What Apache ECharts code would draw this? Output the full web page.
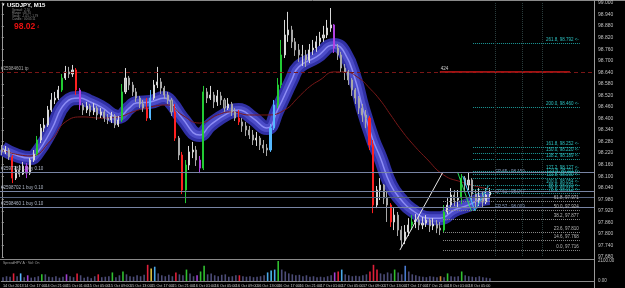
<!DOCTYPE html>
<html><head><meta charset="utf-8">
<script src="https://cdn.jsdelivr.net/npm/echarts@6/dist/echarts.min.js"></script>
<style>html,body{margin:0;padding:0;background:#000;}#c{width:625px;height:288px;}</style>
</head><body><div id="c"></div>
<script>
// ---- time axis ----
const tickLabels = ['14 Oct 2013','14 Oct 17:00','14 Oct 21:00','15 Oct 01:00','15 Oct 05:00','15 Oct 09:00','15 Oct 13:00','15 Oct 17:00','15 Oct 21:00','16 Oct 01:00','16 Oct 05:00','16 Oct 09:00','16 Oct 13:00','16 Oct 17:00','16 Oct 21:00','17 Oct 01:00','17 Oct 05:00','17 Oct 09:00','17 Oct 13:00','17 Oct 17:00','17 Oct 21:00','18 Oct 01:00','18 Oct 05:00'];
const barsPerTick = 6;
const totalSlots = 168;

// ---- price candles (USDJPY) ----
const firstOpen = 98.246;
const closes = [98.226,98.236,98.200,98.090,98.132,98.111,98.153,98.116,98.184,98.215,
98.288,98.350,98.366,98.444,98.496,98.506,98.548,98.610,98.642,98.631,
98.652,98.548,98.470,98.444,98.465,98.434,98.454,98.418,98.434,98.402,
98.392,98.413,98.366,98.392,98.538,98.610,98.574,98.538,98.506,98.475,
98.454,98.402,98.506,98.574,98.590,98.558,98.522,98.496,98.434,98.298,
98.210,98.028,98.158,98.226,98.236,98.184,98.142,98.538,98.506,98.522,
98.486,98.517,98.496,98.454,98.475,98.434,98.402,98.382,98.361,98.340,
98.314,98.288,98.298,98.262,98.246,98.236,98.350,98.470,98.574,98.730,
98.834,98.860,98.798,98.756,98.730,98.730,98.704,98.756,98.766,98.798,
98.818,98.834,98.870,98.886,98.766,98.730,98.662,98.642,98.600,98.548,
98.506,98.454,98.418,98.402,98.262,97.950,98.028,98.054,97.986,97.950,
97.862,97.898,97.820,97.768,97.810,97.846,97.862,97.872,97.846,97.856,
97.872,97.841,97.851,97.830,97.820,97.914,97.950,98.002,97.976,97.986,
98.090,98.054,98.080,98.007,97.976,97.997,97.966,98.002,98.018];
const highs = [98.262,98.257,98.246,98.210,98.153,98.158,98.174,98.168,98.194,98.236,
98.309,98.371,98.402,98.465,98.532,98.538,98.569,98.631,98.673,98.668,
98.678,98.662,98.558,98.480,98.486,98.475,98.480,98.465,98.454,98.444,
98.423,98.434,98.423,98.413,98.579,98.662,98.621,98.590,98.558,98.517,
98.496,98.506,98.548,98.600,98.668,98.610,98.569,98.538,98.506,98.475,
98.309,98.226,98.184,98.257,98.278,98.257,98.205,98.569,98.558,98.569,
98.538,98.548,98.538,98.506,98.506,98.486,98.454,98.444,98.402,98.382,
98.361,98.340,98.330,98.309,98.288,98.267,98.371,98.496,98.610,98.808,
98.912,98.954,98.881,98.818,98.787,98.782,98.756,98.787,98.808,98.829,
98.850,98.881,98.912,98.974,98.891,98.787,98.746,98.683,98.652,98.610,
98.558,98.517,98.475,98.444,98.413,98.288,98.049,98.090,98.059,98.018,
97.960,97.934,97.914,97.841,97.846,97.882,97.898,97.903,97.893,97.888,
97.898,97.882,97.882,97.872,97.862,97.950,97.986,98.038,98.028,98.028,
98.111,98.101,98.122,98.090,98.028,98.038,98.018,98.038,98.038];
const lows = [98.210,98.215,98.184,98.064,98.080,98.096,98.106,98.090,98.106,98.174,
98.205,98.272,98.330,98.356,98.434,98.475,98.496,98.538,98.600,98.610,
98.616,98.522,98.444,98.418,98.428,98.413,98.418,98.392,98.402,98.382,
98.371,98.376,98.350,98.356,98.382,98.527,98.548,98.517,98.486,98.454,
98.434,98.387,98.392,98.496,98.558,98.527,98.501,98.475,98.413,98.283,
98.184,98.007,97.960,98.132,98.194,98.153,98.116,98.132,98.480,98.496,
98.454,98.465,98.470,98.434,98.444,98.413,98.387,98.366,98.330,98.309,
98.293,98.262,98.257,98.236,98.220,98.205,98.226,98.340,98.454,98.558,
98.714,98.798,98.766,98.725,98.694,98.673,98.668,98.688,98.730,98.746,
98.777,98.798,98.818,98.850,98.740,98.704,98.642,98.600,98.574,98.517,
98.475,98.423,98.382,98.350,98.236,97.908,97.934,97.976,97.955,97.862,
97.836,97.820,97.789,97.732,97.747,97.789,97.820,97.830,97.820,97.825,
97.836,97.810,97.820,97.804,97.794,97.810,97.903,97.934,97.945,97.940,
97.955,98.018,98.028,97.976,97.934,97.945,97.940,97.955,97.986];
const candleColors = {3:'#ff2020',7:'#b040e0',10:'#22cc33',17:'#22cc33',21:'#ff2020',22:'#b040e0',34:'#22cc33',41:'#ff2020',42:'#55b8ff',49:'#ff2020',51:'#ff2020',52:'#22cc33',56:'#b040e0',57:'#22cc33',67:'#ff2020',76:'#55b8ff',77:'#55b8ff',78:'#22cc33',79:'#22cc33',94:'#b040e0',104:'#ff2020',105:'#ff2020',110:'#ff2020',116:'#22cc33',125:'#22cc33',130:'#22cc33'};

// ---- volume ----
const volumes = [400,500,450,800,500,800,400,600,350,400,
500,700,700,450,400,500,350,450,700,500,
400,800,600,350,450,300,500,700,400,450,
500,900,400,600,1000,700,500,450,600,500,
650,1700,1300,1500,800,600,500,650,500,900,
700,600,1200,800,500,600,1000,1600,700,800,
600,500,650,700,450,500,600,600,500,450,
500,400,450,500,600,900,1100,1200,2100,1200,
1000,800,700,600,650,500,600,450,500,400,
450,400,500,600,900,1000,1200,700,600,500,
550,500,600,700,1000,1700,1200,800,700,900,
800,1200,900,700,1600,1000,700,600,500,450,
400,500,450,400,500,400,800,500,450,500,
1000,600,500,450,400,500,400,350,300];
const volColors = {3:'#e0203a',5:'#5ab4ff',7:'#a040d0',11:'#30c030',18:'#a040d0',21:'#e0203a',27:'#e0203a',31:'#30c030',34:'#30c030',41:'#e0203a',42:'#d8c040',43:'#4aa8e8',49:'#e0203a',52:'#30c030',55:'#a040d0',56:'#30c030',57:'#30c030',67:'#e0203a',75:'#4aa8e8',76:'#4ab8e8',77:'#4aa8e8',78:'#30c030',94:'#a040d0',95:'#e0203a',96:'#4aa8e8',104:'#e0203a',105:'#e0203a',106:'#e0203a',111:'#30c030',114:'#4a7ad0',124:'#d08030',126:'#30c030',130:'#30c030'};

// ---- indicators ----
const bandIdx = [0,4,8,10,14,18,22,25,28,33,36,38,42,46,48,51,56,59,64,67,71,75,78,82,84,89,94,97,100,102,105,107,110,113,116,121,124,128,132,135,138];
const bandVal = [98.246,98.210,98.194,98.220,98.340,98.480,98.506,98.486,98.460,98.408,98.454,98.480,98.486,98.506,98.480,98.402,98.314,98.366,98.428,98.444,98.402,98.350,98.444,98.600,98.668,98.720,98.782,98.740,98.600,98.460,98.288,98.200,98.054,97.976,97.924,97.882,97.882,97.924,97.950,97.976,97.986];
const maIdx = [0,8,14,18,23,28,33,37,42,47,51,56,61,65,70,75,80,84,87,90,94,97,101,104,107,110,113,116,120,125,130,135,138];
const maVal = [98.236,98.205,98.288,98.382,98.408,98.402,98.408,98.434,98.460,98.470,98.418,98.376,98.418,98.434,98.418,98.418,98.444,98.512,98.564,98.600,98.642,98.642,98.610,98.558,98.496,98.418,98.340,98.272,98.194,98.106,98.070,98.044,98.033];

// ---- levels ----
const tpLevel = 98.642;
const tpLabel = '#25984601 tp';
const orderLevels = [98.124, 98.018, 97.992, 97.940];
const orderLabels = ['#2597783 1 buy 0.10', '#2598702 1 buy 0.10', '', '#2598460 1 buy 0.10'];
const fibTeal = [98.792,98.460,98.252,98.220,98.189,98.127,98.111,98.090,98.054,98.033,98.012];
const fibTealRatio = ['261.8','200.0','161.8','150.0','138.2','127.2','123.6','111.8','100.0','88.6','78.6'];
const fibGrey = [97.971,97.924,97.877,97.810,97.768,97.716];
const fibGreyRatio = ['61.8','50.0','38.2','23.6','14.6','0.0'];
const epLabels = ['EP 65 : 98.150','EP 61 : 98.047','EP 57 : 98.009'];
const epLevels = [98.124, 98.018, 97.940];
const trendLines = [
  {from:[112.6,97.716], to:[124.8,98.122], color:'#e8e8e8'},
  {from:[128.9,98.122], to:[132.8,97.920], color:'#22dd55'},
  {from:[130.4,98.100], to:[133.8,97.920], color:'#40c8ff'},
  {from:[133.8,97.920], to:[137.6,98.050], color:'#30b0c0'}
];
const timeZones = [139.5, 147.1, 152.8];

// ---- build ----
const cats = Array.from({length: totalSlots}, (_, i) => 's' + i);
const ohlc = closes.map((c, i) => {
  const o = i === 0 ? firstOpen : closes[i - 1];
  const item = {value: [o, c, lows[i], highs[i]]};
  const col = candleColors[i];
  if (col) item.itemStyle = {color: col, color0: col, borderColor: col, borderColor0: col};
  return item;
});
const volData = volumes.map((v, i) => ({value: v, itemStyle: {color: volColors[i] || '#4c4c78'}}));
const bandData = bandIdx.map((x, k) => [x, bandVal[k]]);
const maData = maIdx.map((x, k) => [x, maVal[k]]);

const fibStartTeal = 133.3, fibStartGrey = 124.8, fibEnd = 163.5;
const segLines = [];
fibTeal.forEach((p, k) => segLines.push([
  {coord: [fibStartTeal, p], lineStyle: {color: '#1c9a9a', type: 'dotted', width: 1},
   label: {show: true, position: 'insideEndTop', formatter: fibTealRatio[k] + ', ' + p.toFixed(3) + ' <-', color: '#2cc0c0', fontSize: 4.5, distance: 1}},
  {coord: [fibEnd, p]}]));
fibGrey.forEach((p, k) => segLines.push([
  {coord: [fibStartGrey, p], lineStyle: {color: '#8a8a8a', type: 'dotted', width: 1},
   label: {show: true, position: 'insideEndTop', formatter: fibGreyRatio[k] + ', ' + p.toFixed(3), color: '#b8b8b8', fontSize: 4.5, distance: 1}},
  {coord: [fibEnd, p]}]));
segLines.push([{coord: [123.9, tpLevel], lineStyle: {color: '#d81818', type: 'solid', width: 1.5},
  label: {show: true, position: 'insideStartTop', formatter: '424', color: '#d0d0d0', fontSize: 4.5, distance: 1}}, {coord: [160.7, tpLevel]}]);
trendLines.forEach(t => segLines.push([{coord: t.from, lineStyle: {color: t.color, type: 'solid', width: 1}, label: {show: false}}, {coord: t.to}]));
timeZones.forEach(x => segLines.push([{coord: [x, 99.0], lineStyle: {color: '#2a3c3c', type: 'dotted', width: 1}, label: {show: false}}, {coord: [x, 97.68]}]));

const hLines = [];
hLines.push({yAxis: tpLevel, lineStyle: {color: '#7a1616', type: [4, 3], width: 1},
  label: {show: true, position: 'insideStartTop', formatter: tpLabel, color: '#a8a8a8', fontSize: 4.5, distance: 1}});
orderLevels.forEach((p, k) => hLines.push({yAxis: p, lineStyle: {color: k === 2 ? '#56637f' : '#7884a4', type: 'solid', width: 1},
  label: {show: !!orderLabels[k], position: 'insideStartTop', formatter: orderLabels[k], color: '#b0b8c8', fontSize: 4.5, distance: 1}}));
hLines.push({yAxis: closes[closes.length - 1], lineStyle: {opacity: 0},
  label: {show: true, position: 'end', formatter: closes[closes.length - 1].toFixed(3), color: '#000', backgroundColor: '#e8e8e8', fontSize: 5, padding: [1, 1], distance: 3}});

const option = {
  backgroundColor: '#000',
  animation: false,
  grid: [
    {left: 0, right: 31, top: 3, height: 254},
    {left: 0, right: 31, top: 261, height: 20}
  ],
  xAxis: [
    {type: 'category', gridIndex: 0, data: cats, boundaryGap: true, show: false},
    {type: 'value', gridIndex: 0, min: -0.5, max: totalSlots - 0.5, show: false},
    {type: 'category', gridIndex: 1, data: cats, boundaryGap: true,
     axisLine: {show: true, lineStyle: {color: '#8a8a8a'}}, axisTick: {show: false},
     axisLabel: {interval: 0, align: 'left', margin: 3, fontSize: 3.8, color: '#c8c8c8', fontFamily: 'Liberation Sans', hideOverlap: false,
       formatter: (v, i) => (i % barsPerTick === 0 && tickLabels[i / barsPerTick]) ? tickLabels[i / barsPerTick] : ''}}
  ],
  yAxis: [
    {type: 'value', gridIndex: 0, position: 'right', min: 97.68, max: 99.00, interval: 0.06,
     axisLine: {show: true, lineStyle: {color: '#9a9a9a'}}, axisTick: {show: true, length: 2, lineStyle: {color: '#9a9a9a'}},
     splitLine: {show: false},
     axisLabel: {fontSize: 5, color: '#c0c0c0', margin: 4, fontFamily: 'Liberation Sans', formatter: v => v.toFixed(3)}},
    {type: 'value', gridIndex: 1, position: 'right', min: 0, max: 2100, interval: 2100,
     axisLine: {show: true, lineStyle: {color: '#9a9a9a'}}, axisTick: {show: false}, splitLine: {show: false},
     axisLabel: {fontSize: 4.5, color: '#c0c0c0', margin: 4, fontFamily: 'Liberation Sans', formatter: v => v.toFixed(2)}}
  ],
  series: [
    {type: 'line', xAxisIndex: 1, yAxisIndex: 0, data: bandData, smooth: 0.5, symbol: 'none', z: 1,
     lineStyle: {width: 14, color: '#3030a4'}},
    {type: 'line', xAxisIndex: 1, yAxisIndex: 0, data: bandData, smooth: 0.5, symbol: 'none', z: 1,
     lineStyle: {width: 8, color: '#4c4cc8'}},
    {type: 'line', xAxisIndex: 1, yAxisIndex: 0, data: bandData, smooth: 0.5, symbol: 'none', z: 1,
     lineStyle: {width: 1.5, color: '#8c8cf4'}},
    {type: 'line', xAxisIndex: 1, yAxisIndex: 0, data: maData, smooth: 0.5, symbol: 'none', z: 2,
     lineStyle: {width: 1, color: '#7a1818'},
     markLine: {silent: true, symbol: ['none', 'none'], animation: false, data: segLines}},
    {type: 'candlestick', xAxisIndex: 0, yAxisIndex: 0, data: ohlc, barWidth: 1.6, z: 3,
     itemStyle: {color: '#bdbdbd', color0: '#6e6e6e', borderColor: '#d8d8d8', borderColor0: '#a8a8a8', borderWidth: 1},
     markLine: {silent: true, symbol: ['none', 'none'], animation: false, data: hLines}},
    {type: 'scatter', xAxisIndex: 1, yAxisIndex: 0, symbolSize: 0, z: 4,
     data: epLevels.map((p, k) => ({value: [139.5, p], label: {show: true, position: 'right', formatter: epLabels[k], color: '#9fb8e0', fontSize: 4.5, distance: 0}}))},
    {type: 'bar', xAxisIndex: 2, yAxisIndex: 1, data: volData, barWidth: 1.6}
  ],
  graphic: [
    {type: 'line', shape: {x1: 0, y1: 0.5, x2: 625, y2: 0.5}, style: {stroke: '#8a8a8a', lineWidth: 1}},
    {type: 'line', shape: {x1: 0, y1: 259.5, x2: 594, y2: 259.5}, style: {stroke: '#8a8a8a', lineWidth: 1}},
    {type: 'line', shape: {x1: 594.5, y1: 0, x2: 594.5, y2: 288}, style: {stroke: '#9a9a9a', lineWidth: 1}},
    {type: 'text', left: 2, top: 2, style: {text: '▾', fill: '#ffffff', fontSize: 5}},
    {type: 'text', left: 7, top: 2, style: {text: 'USDJPY, M15', fill: '#ffffff', fontSize: 6, fontWeight: 'bold', fontFamily: 'Liberation Sans'}},
    {type: 'text', left: 12, top: 9, style: {text: 'Spread : 2.50', fill: '#8a8a8a', fontSize: 3, fontFamily: 'Liberation Sans'}},
    {type: 'text', left: 12, top: 12, style: {text: 'Range : 46.70', fill: '#8a8a8a', fontSize: 3, fontFamily: 'Liberation Sans'}},
    {type: 'text', left: 12, top: 15, style: {text: 'Swap : -1.05 / -1.79', fill: '#8a8a8a', fontSize: 3, fontFamily: 'Liberation Sans'}},
    {type: 'text', left: 12, top: 18, style: {text: 'Candle : 00:05:11', fill: '#8a8a8a', fontSize: 3, fontFamily: 'Liberation Sans'}},
    {type: 'text', left: 14, top: 22, style: {text: '98.02', fill: '#e81010', fontSize: 8.5, fontWeight: 'bold', fontFamily: 'Liberation Sans'}},
    {type: 'text', left: 37, top: 25, style: {text: '4', fill: '#e81010', fontSize: 4, fontFamily: 'Liberation Sans'}},
    {type: 'text', left: 3, top: 261, style: {text: 'SpreadHPV A · Vol: On', fill: '#a0a0a0', fontSize: 3.5, fontFamily: 'Liberation Sans'}}
  ]
};
const chart = echarts.init(document.getElementById('c'), null, {renderer: 'canvas'});
chart.setOption(option);
</script>
</body></html>
